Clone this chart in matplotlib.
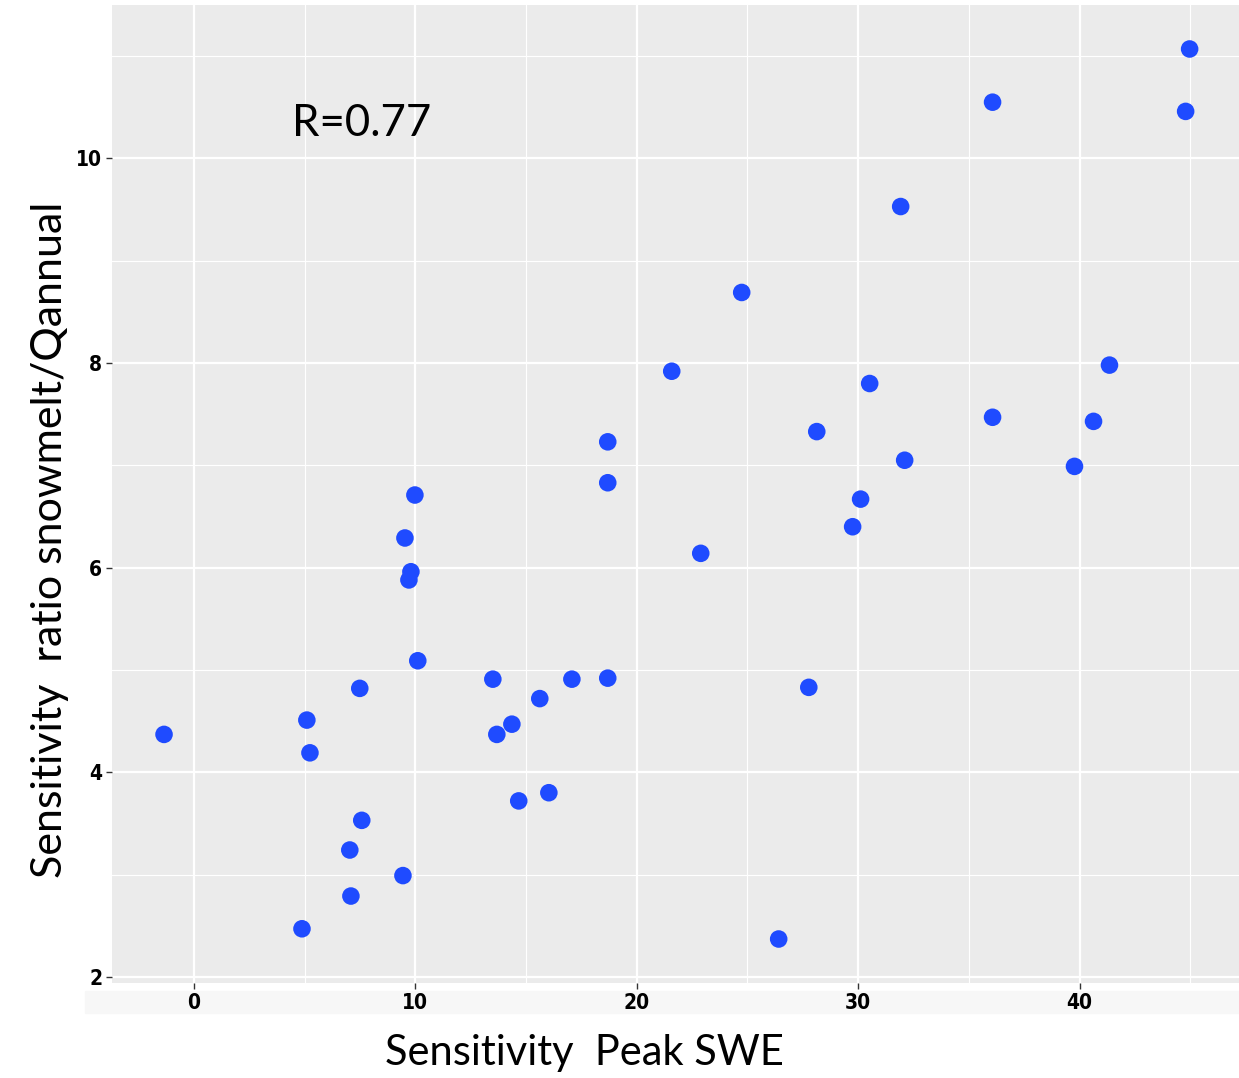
import matplotlib
matplotlib.use("Agg")
import matplotlib.pyplot as plt
from matplotlib.patches import Rectangle

# Sensitivity of peak SWE (x) vs sensitivity ratio snowmelt/Qannual (y)
peak_swe = [-1.35, 5.10, 5.24, 7.49, 7.58, 7.04, 7.09, 4.88, 9.44, 9.53,
            9.98, 9.80, 9.71, 10.11, 13.50, 13.68, 14.36, 14.67, 16.03, 15.62,
            17.07, 18.69, 18.69, 18.69, 21.58, 22.89, 24.74, 26.41, 27.77, 28.13,
            29.75, 30.11, 30.52, 31.92, 32.10, 36.07, 36.07, 39.77, 40.63, 41.35,
            44.79, 44.97]
ratio = [4.37, 4.51, 4.19, 4.82, 3.53, 3.24, 2.79, 2.47, 2.99, 6.29,
         6.71, 5.96, 5.88, 5.09, 4.91, 4.37, 4.47, 3.72, 3.80, 4.72,
         4.91, 4.92, 6.83, 7.23, 7.92, 6.14, 8.69, 2.37, 4.83, 7.33,
         6.40, 6.67, 7.80, 9.53, 7.05, 10.55, 7.47, 6.99, 7.43, 7.98,
         10.46, 11.07]

x_ticks = [0, 10, 20, 30, 40]
y_ticks = [2, 4, 6, 8, 10]

label_font = ['Lato', 'DejaVu Sans']

fig = plt.figure(figsize=(12.39, 10.78), dpi=100)
# light strip behind the x tick labels
fig.patches.append(Rectangle((85 / 1239, 1 - 1013 / 1078), 1 - 85 / 1239, 22 / 1078,
                             transform=fig.transFigure, color='#f7f7f7', zorder=-1))

ax = fig.add_axes([112 / 1239, 1 - 983 / 1078, 1 - 112 / 1239, (983 - 5) / 1078])
ax.set_facecolor('#ebebeb')
for s in ax.spines.values():
    s.set_visible(False)

ax.set_xlim(-3.7, 47.2)
ax.set_ylim(1.94, 11.5)
ax.set_xticks(x_ticks)
ax.set_yticks(y_ticks)
ax.set_xticks([5, 15, 25, 35, 45], minor=True)
ax.set_yticks([3, 5, 7, 9, 11], minor=True)
ax.grid(which='major', color='white', linewidth=1.6)
ax.grid(which='minor', color='white', linewidth=0.8)
ax.set_axisbelow(True)
ax.tick_params(which='major', length=4, width=1, color='#333333', pad=3)
ax.tick_params(which='minor', length=0)
for lab in ax.get_xticklabels() + ax.get_yticklabels():
    lab.set_fontfamily('DejaVu Sans')
    lab.set_fontstretch('condensed')
    lab.set_fontweight('bold')
    lab.set_fontsize(15)
    lab.set_color('black')

ax.scatter(peak_swe, ratio, s=160, color='#1f4bff', edgecolors='none', zorder=3)

ax.text(4.45, 10.22, 'R=0.77', fontsize=31.5, family=label_font, color='black')

fig.text(584 / 1239, 1 - 1053 / 1078, 'Sensitivity  Peak SWE', ha='center', va='center',
         fontsize=30, family=label_font)
fig.text(50 / 1239, 1 - 540 / 1078, 'Sensitivity  ratio snowmelt/Qannual', ha='center',
         va='center', rotation=90, fontsize=31, family=label_font)

fig.savefig('out.png', dpi=100)
